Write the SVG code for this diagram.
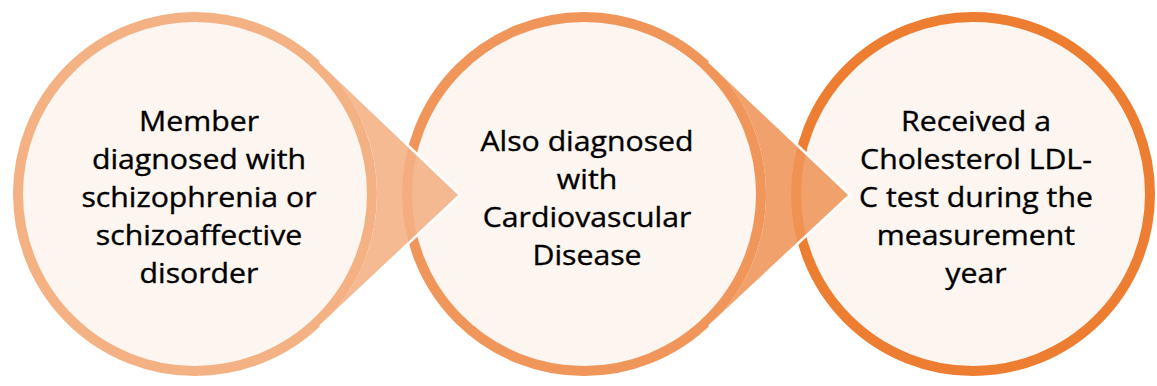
<svg xmlns="http://www.w3.org/2000/svg" width="1157" height="386" viewBox="0 0 1157 386">
<style>
.bg{fill:#ffffff}
.disc{fill:#FCF5F0;stroke-width:10}
.r1{stroke:#F4B183}
.r2{stroke:#F0965A}
.r3{stroke:#ED7D31}
.p1{fill:#F4B183;fill-opacity:0.88}
.p2{fill:#EF9558;fill-opacity:0.88}
.edge{fill:none;stroke:#ffffff;stroke-width:2.5}
.lbl{font-family:"Open Sans","Noto Sans","Liberation Sans",sans-serif;font-size:27px;fill:#000000;stroke:#000000;stroke-width:0.35;text-anchor:middle}
</style>
<rect class="bg" x="0" y="0" width="1157" height="386"/>
<g id="node1">
<circle class="disc r1" cx="195" cy="194" r="177"/>
</g>
<g id="node2">
<circle class="disc r2" cx="584" cy="194" r="177"/>
</g>
<g id="node3">
<circle class="disc r3" cx="973" cy="194" r="177"/>
</g>
<g id="connectors">
<path class="p1" d="M320,61.7 L460,195 L320,326.3 A182,182 0 0 0 320,61.7 Z"/>
<path class="edge" d="M320,61.7 L460,195 L320,326.3"/>
<path class="p2" d="M709,61.7 L850,195 L709,326.3 A182,182 0 0 0 709,61.7 Z"/>
<path class="edge" d="M709,61.7 L850,195 L709,326.3"/>
</g>
<g id="labels">
<g transform="translate(199,0) scale(1.12,1)">
<text class="lbl" x="0" y="131.5">Member</text>
<text class="lbl" x="0" y="169.5">diagnosed with</text>
<text class="lbl" x="0" y="207.5">schizophrenia or</text>
<text class="lbl" x="0" y="245.5">schizoaffective</text>
<text class="lbl" x="0" y="283.5">disorder</text>
</g>
<g transform="translate(587,0) scale(1.12,1)">
<text class="lbl" x="0" y="151.5">Also diagnosed</text>
<text class="lbl" x="0" y="189.5">with</text>
<text class="lbl" x="0" y="227.5">Cardiovascular</text>
<text class="lbl" x="0" y="265.5">Disease</text>
</g>
<g transform="translate(976,0) scale(1.12,1)">
<text class="lbl" x="0" y="131.5">Received a</text>
<text class="lbl" x="0" y="169.5">Cholesterol LDL-</text>
<text class="lbl" x="0" y="207.5">C test during the</text>
<text class="lbl" x="0" y="245.5">measurement</text>
<text class="lbl" x="0" y="283.5">year</text>
</g>
</g>
</svg>
